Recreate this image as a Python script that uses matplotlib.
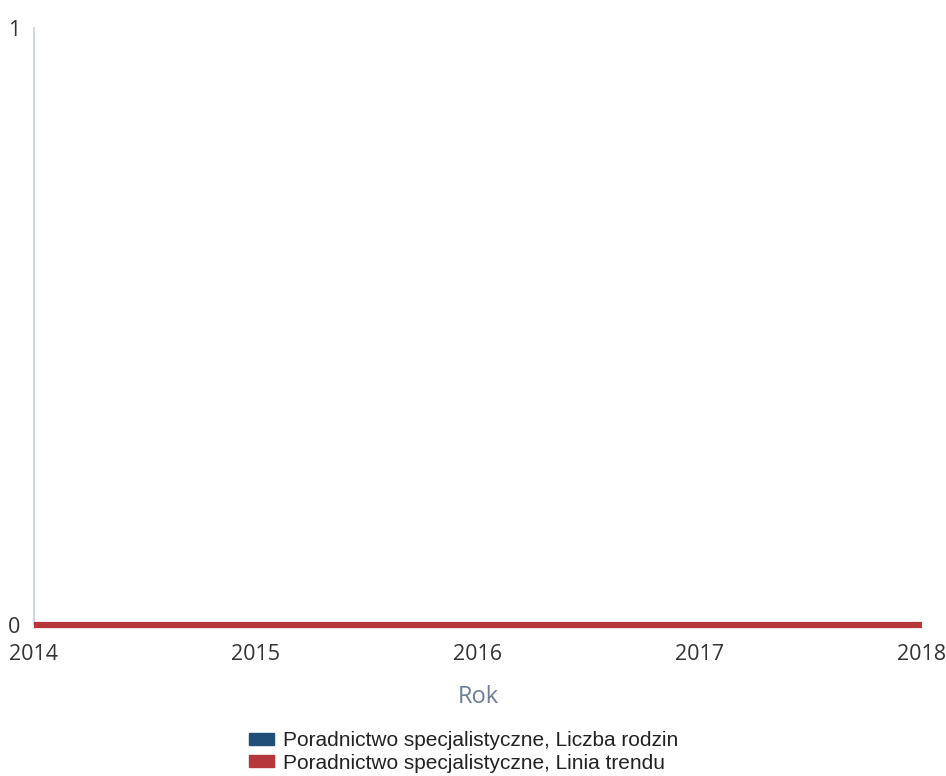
import numpy as np
import matplotlib.pyplot as plt
from matplotlib.patches import Patch

# dane
lata = [2014, 2015, 2016, 2017, 2018]
liczba_rodzin = [0, 0, 0, 0, 0]
linia_trendu = [0, 0, 0, 0, 0]
y_ticks = [0, 1]

fig = plt.figure(figsize=(9.46, 7.76), dpi=100)
ax = fig.add_axes([34/946, 1 - 625/776, (922 - 34)/946, (625 - 28)/776])

ax.bar(lata, liczba_rodzin, width=0.7, color='#1f4e79')
ax.plot(lata, linia_trendu, color='#b5373b', lw=4.5, solid_capstyle='butt', clip_on=False, zorder=5)

ax.set_xlim(2014, 2018)
ax.set_ylim(0, 1)
ax.set_xticks(lata)
ax.set_xticklabels([str(r) for r in lata], fontsize=15.5, color='#333333', family='Open Sans')
ax.set_yticks(y_ticks)
ax.set_yticklabels([str(v) for v in y_ticks], fontsize=15.5, color='#333333', family='Open Sans')
ax.tick_params(axis='both', length=0)
ax.tick_params(axis='x', pad=14)
ax.tick_params(axis='y', pad=10)

for s in ['top', 'right', 'bottom']:
    ax.spines[s].set_visible(False)
ax.spines['left'].set_color('#c3d0e2')
ax.spines['left'].set_linewidth(1.2)

ax.set_xlabel('Rok', fontsize=17, color='#6b7d99', family='Open Sans', labelpad=14)

handles = [Patch(color='#1f4e79'), Patch(color='#b5373b')]
labels = ['Poradnictwo specjalistyczne, Liczba rodzin', 'Poradnictwo specjalistyczne, Linia trendu']
fig.legend(handles, labels, loc='center', bbox_to_anchor=(0.49, 1 - 752/776), frameon=False,
           prop={'family': 'Liberation Sans', 'size': 15}, handlelength=1.2, handleheight=0.55,
           handletextpad=0.45, labelspacing=0.15, labelcolor='#222222')

fig.savefig('out.png', dpi=100)
